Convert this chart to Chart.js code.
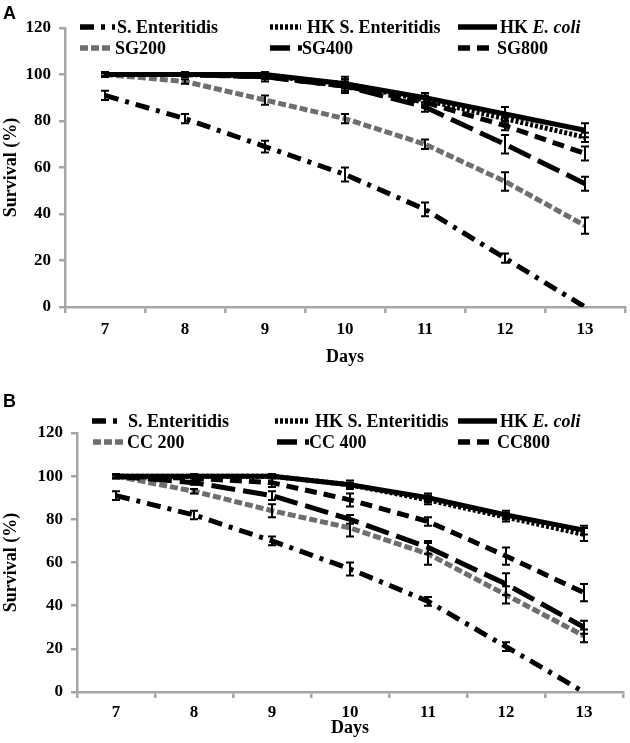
<!DOCTYPE html>
<html>
<head>
<meta charset="utf-8">
<script src="https://cdn.jsdelivr.net/npm/chart.js@4.4.1/dist/chart.umd.min.js"></script>
<style>
body { margin: 0; background: #fff; width: 630px; height: 743px; position: relative; overflow: hidden; }
.panel { position: absolute; left: 0; }
.tag { position: absolute; left: 3px; font: bold 18px "Liberation Sans", Arial, sans-serif; line-height: 20px; }
</style>
</head>
<body>
<div class="panel" style="top:0"><canvas id="chartA" width="630" height="370"></canvas></div>
<div class="panel" style="top:370px"><canvas id="chartB" width="630" height="373"></canvas></div>
<div class="tag" style="top:3px">A</div>
<div class="tag" style="top:391px">B</div>
<script>
// data
var days = ['7', '8', '9', '10', '11', '12', '13'];

// panel A
var seA = [91, 81, 69, 57, 42, 21, 0];
var seErrA = [2, 2, 2.5, 3, 3, 2, 0];
var hkSeA = [100, 100, 99.5, 96, 89, 81, 73];
var hkSeErrA = [1, 1, 1, 2, 2, 2, 2];
var hkEcA = [100, 100, 100, 96, 90, 83, 76];
var hkEcErrA = [0.5, 0.5, 1, 3, 2, 3, 3];
var sg200 = [100, 97, 89, 81, 70, 54, 35];
var sg200Err = [1, 1, 2, 2, 2, 4, 3.5];
var sg400 = [100, 100, 99, 95, 86, 70, 53];
var sg400Err = [1, 1, 2, 3, 2, 4, 3];
var sg800 = [100, 100, 99, 95, 88, 78, 66];
var sg800Err = [1, 1, 1, 2, 2, 2, 3];

// panel B
var seB = [91, 82, 70, 57, 42, 21, 0];
var seErrB = [2, 2, 2, 3, 2, 2, 0];
var hkSeB = [100, 100, 100, 96, 89, 81, 73];
var hkSeErrB = [1, 1, 1, 2, 2, 2, 3];
var hkEcB = [100, 100, 100, 96, 90, 82, 75];
var hkEcErrB = [0.5, 0.5, 1, 1, 2, 2, 2];
var cc200 = [100, 93, 84, 76, 64, 45, 26];
var cc200Err = [1, 1, 3, 4, 5, 4, 3];
var cc400 = [100, 97, 91, 80, 67, 50, 30];
var cc400Err = [1, 1, 2, 2, 3, 5, 3];
var cc800 = [100, 99, 97, 89, 79, 63, 46];
var cc800Err = [1, 2, 2, 3, 2, 4, 4];

var yTicks = [0, 20, 40, 60, 80, 100, 120];

var axisGray = '#a5a5a5';
var serif = '"Liberation Serif", "Times New Roman", serif';

// line styles
var sty = {
    se: { borderColor: '#000', borderDash: [14, 7, 4, 7], borderWidth: 5 },
    hkSe: { borderColor: '#000', borderDash: [3, 2], borderWidth: 5 },
    hkEc: { borderColor: '#000', borderDash: [], borderWidth: 5 },
    d200: { borderColor: '#6e6e6e', borderDash: [8, 3], borderWidth: 5 },
    d400: { borderColor: '#000', borderDash: [24, 8], borderWidth: 5, legendDash: [20, 8, 4, 20] },
    d800: { borderColor: '#000', borderDash: [12, 7], borderWidth: 5 }
};

function ds(label, data, errors, style, order) {
    return Object.assign({ label: label, data: data, errors: errors, order: order, fill: false, pointRadius: 0, tension: 0 }, style);
}

// error bars on every point
var errorBars = {
    id: 'errorBars',
    afterDatasetsDraw: function(chart) {
        var ctx = chart.ctx, ys = chart.scales.y;
        ctx.save();
        ctx.strokeStyle = '#000';
        ctx.lineWidth = 2;
        ctx.setLineDash([]);
        chart.data.datasets.forEach(function(d, i) {
            if (!d.errors) return;
            chart.getDatasetMeta(i).data.forEach(function(pt, j) {
                var e = d.errors[j];
                if (!e) return;
                var t = ys.getPixelForValue(d.data[j] + e), b = ys.getPixelForValue(d.data[j] - e);
                ctx.beginPath();
                ctx.moveTo(pt.x, t); ctx.lineTo(pt.x, b);
                ctx.moveTo(pt.x - 4, t); ctx.lineTo(pt.x + 4, t);
                ctx.moveTo(pt.x - 4, b); ctx.lineTo(pt.x + 4, b);
                ctx.stroke();
            });
        });
        ctx.restore();
    }
};

// excel-like legend in a 3x2 grid
var gridLegend = {
    id: 'gridLegend',
    afterDraw: function(chart, args, opts) {
        var ctx = chart.ctx;
        ctx.save();
        opts.items.forEach(function(it, i) {
            var d = chart.data.datasets[i];
            ctx.beginPath();
            ctx.strokeStyle = d.borderColor;
            ctx.lineWidth = d.borderWidth + 0.5;
            ctx.setLineDash(d.legendDash || d.borderDash);
            ctx.moveTo(it.x0, it.y);
            ctx.lineTo(it.x1, it.y);
            ctx.stroke();
            ctx.setLineDash([]);
            ctx.fillStyle = '#000';
            ctx.textBaseline = 'middle';
            var lbl = d.label, x = it.tx, k = lbl.indexOf('E. coli');
            var head = k >= 0 ? lbl.slice(0, k) : lbl;
            ctx.font = 'bold 18px ' + serif;
            ctx.fillText(head, x, it.y + 1);
            if (k >= 0) {
                x += ctx.measureText(head).width;
                ctx.font = 'italic bold 18px ' + serif;
                ctx.fillText('E. coli', x, it.y + 1);
            }
        });
        ctx.restore();
    }
};

function makeChart(el, sets, o) {
    return new Chart(el, {
        type: 'line',
        data: { labels: days, datasets: sets },
        options: {
            responsive: false,
            animation: false,
            layout: { padding: { left: 0, top: o.top, right: o.right, bottom: 0 } },
            plugins: {
                legend: { display: false },
                tooltip: { enabled: false },
                gridLegend: { items: o.legend }
            },
            scales: {
                x: {
                    offset: true,
                    grid: { offset: true, drawOnChartArea: false, color: axisGray, lineWidth: 2.5, tickLength: 6 },
                    border: { color: axisGray, width: 2.5 },
                    ticks: { color: '#000', font: { family: serif, weight: 'bold', size: 17 }, padding: o.xPad, maxRotation: 0 },
                    title: { display: true, text: 'Days', color: '#000', font: { family: serif, weight: 'bold', size: 18 }, padding: o.titlePad },
                    afterFit: function(s) { s.height = o.xh; }
                },
                y: {
                    min: 0,
                    max: 120,
                    afterBuildTicks: function(s) { s.ticks = yTicks.map(function(v) { return { value: v }; }); },
                    grid: { drawOnChartArea: false, color: axisGray, lineWidth: 2.5, tickLength: 6 },
                    border: { color: axisGray, width: 2.5 },
                    ticks: { color: '#000', font: { family: serif, weight: 'bold', size: 17 }, padding: 8 },
                    title: { display: true, text: 'Survival (%)', color: '#000', font: { family: serif, weight: 'bold', size: 18 }, padding: 1 },
                    afterFit: function(s) { s.width = o.yw; }
                }
            }
        },
        plugins: [errorBars, gridLegend]
    });
}

makeChart(document.getElementById('chartA'), [
    ds('S. Enteritidis', seA, seErrA, sty.se, 5),
    ds('HK S. Enteritidis', hkSeA, hkSeErrA, sty.hkSe, 1),
    ds('HK E. coli', hkEcA, hkEcErrA, sty.hkEc, 0),
    ds('SG200', sg200, sg200Err, sty.d200, 4),
    ds('SG400', sg400, sg400Err, sty.d400, 3),
    ds('SG800', sg800, sg800Err, sty.d800, 2)
], {
    top: 28, right: 5, yw: 65, xh: 63, xPad: 6, titlePad: 2,
    legend: [
        { x0: 80, x1: 115, tx: 117, y: 27 },
        { x0: 270, x1: 301, tx: 307, y: 27 },
        { x0: 458, x1: 497, tx: 500, y: 27 },
        { x0: 80, x1: 112, tx: 115, y: 48 },
        { x0: 270, x1: 302, tx: 302, y: 48 },
        { x0: 458, x1: 493, tx: 497, y: 48 }
    ]
});

makeChart(document.getElementById('chartB'), [
    ds('S. Enteritidis', seB, seErrB, sty.se, 5),
    ds('HK S. Enteritidis', hkSeB, hkSeErrB, sty.hkSe, 1),
    ds('HK E. coli', hkEcB, hkEcErrB, sty.hkEc, 0),
    ds('CC 200', cc200, cc200Err, sty.d200, 4),
    ds('CC 400', cc400, cc400Err, sty.d400, 3),
    ds('CC800', cc800, cc800Err, sty.d800, 2)
], {
    top: 63, right: 7, yw: 77, xh: 51, xPad: 4, titlePad: 4,
    legend: [
        { x0: 92, x1: 117, tx: 128, y: 51 },
        { x0: 275, x1: 308, tx: 315, y: 51 },
        { x0: 458, x1: 497, tx: 500, y: 51 },
        { x0: 93, x1: 125, tx: 127, y: 72 },
        { x0: 277, x1: 309, tx: 309, y: 72 },
        { x0: 458, x1: 493, tx: 497, y: 72 }
    ]
});
</script>
</body>
</html>
